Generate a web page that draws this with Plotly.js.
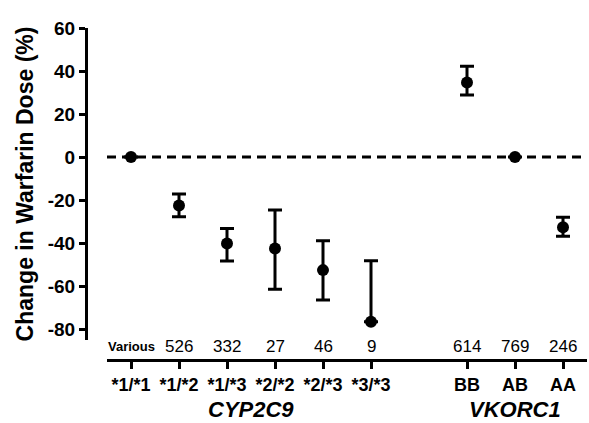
<!DOCTYPE html>
<html>
<head>
<meta charset="utf-8">
<script src="https://cdn.plot.ly/plotly-3.0.1.min.js"></script>
<style>html,body{margin:0;padding:0;background:#fff;}#chart{width:589px;height:423px;}</style>
</head>
<body>
<div id="chart"></div>
<script>
// Data
const cyp2c9Genotypes = ['*1/*1', '*1/*2', '*1/*3', '*2/*2', '*2/*3', '*3/*3'];
const cyp2c9Change   = [0, -22.5, -40.2, -42.5, -52.6, -76.6];
const cyp2c9ErrPlus  = [0, 5.3, 7.0, 17.9, 13.6, 28.4];
const cyp2c9ErrMinus = [0, 5.3, 8.2, 19.0, 13.9, 0];
const cyp2c9N        = ['Various', '526', '332', '27', '46', '9'];

const vkorc1Genotypes = ['BB', 'AB', 'AA'];
const vkorc1Change    = [34.7, 0, -32.7];
const vkorc1ErrPlus   = [7.5, 0, 4.7];
const vkorc1ErrMinus  = [5.9, 0, 4.2];
const vkorc1N         = ['614', '769', '246'];

const gapCategory = ' ';
const categoryOrder = cyp2c9Genotypes.concat([gapCategory], vkorc1Genotypes);
const tickCats = cyp2c9Genotypes.concat(vkorc1Genotypes);

const FONT = 'Liberation Sans, Arial, sans-serif';

function series(x, y, ep, em) {
  return {
    type: 'scatter', mode: 'markers', x: x, y: y,
    marker: {color: '#000', size: 12},
    error_y: {type: 'data', symmetric: false, array: ep, arrayminus: em,
              color: '#000', thickness: 3, width: 7},
    showlegend: false, cliponaxis: false, hoverinfo: 'x+y'
  };
}

const traces = [
  series(cyp2c9Genotypes, cyp2c9Change, cyp2c9ErrPlus, cyp2c9ErrMinus),
  series(vkorc1Genotypes, vkorc1Change, vkorc1ErrPlus, vkorc1ErrMinus)
];

const nLabels = cyp2c9N.concat(vkorc1N);
const annotations = tickCats.map((c, i) => ({
  x: c, y: 0.04, xref: 'x', yref: 'paper', showarrow: false,
  text: nLabels[i] === 'Various' ? '<b>' + nLabels[i] + '</b>' : nLabels[i],
  font: {family: FONT, size: nLabels[i] === 'Various' ? 13 : 17, color: '#000'},
  xanchor: 'center', yanchor: 'middle'
}));
annotations.push({
  x: 2.5, y: -0.148, xref: 'x', yref: 'paper', showarrow: false,
  text: '<b><i>CYP2C9</i></b>', font: {family: FONT, size: 22, color: '#000'},
  xanchor: 'center', yanchor: 'middle'
});
annotations.push({
  x: 8, y: -0.148, xref: 'x', yref: 'paper', showarrow: false,
  text: '<b><i>VKORC1</i></b>', font: {family: FONT, size: 22, color: '#000'},
  xanchor: 'center', yanchor: 'middle'
});

const layout = {
  width: 589, height: 423,
  margin: {l: 86, r: 2, t: 28, b: 63},
  paper_bgcolor: '#fff', plot_bgcolor: '#fff',
  font: {family: FONT, color: '#000'},
  xaxis: {
    type: 'category', categoryorder: 'array', categoryarray: categoryOrder,
    range: [-0.5, 9.5], domain: [21/501, 1],
    anchor: 'free', position: 0,
    showline: true, linecolor: '#000', linewidth: 3,
    ticks: 'outside', ticklen: 7, tickwidth: 3, tickcolor: '#000',
    tickmode: 'array', tickvals: tickCats, ticktext: tickCats.map(t => '<b>' + t + '</b>'),
    tickfont: {family: FONT, size: 18, color: '#000'},
    showgrid: false, zeroline: false, fixedrange: true
  },
  yaxis: {
    range: [-85.1, 60], domain: [20/332, 1],
    anchor: 'free', position: 0,
    showline: true, linecolor: '#000', linewidth: 3,
    ticks: 'outside', ticklen: 6, tickwidth: 3, tickcolor: '#000',
    tickvals: [60, 40, 20, 0, -20, -40, -60, -80],
    ticktext: ['<b>60</b>', '<b>40</b>', '<b>20</b>', '<b>0</b>', '<b>-20</b>', '<b>-40</b>', '<b>-60</b>', '<b>-80</b>'],
    tickfont: {family: FONT, size: 19, color: '#000'},
    showgrid: false, zeroline: false, fixedrange: true,
    title: {text: '<b>Change in Warfarin Dose (%)</b>', font: {family: FONT, size: 23, color: '#000'}, standoff: 6}
  },
  shapes: [{
    type: 'line', xref: 'x', yref: 'y', x0: -0.5, x1: 9.5, y0: 0, y1: 0,
    line: {color: '#000', width: 3, dash: '9px,6px'}, layer: 'below'
  }],
  annotations: annotations
};

Plotly.newPlot('chart', traces, layout, {displayModeBar: false, staticPlot: true});
</script>
</body>
</html>
